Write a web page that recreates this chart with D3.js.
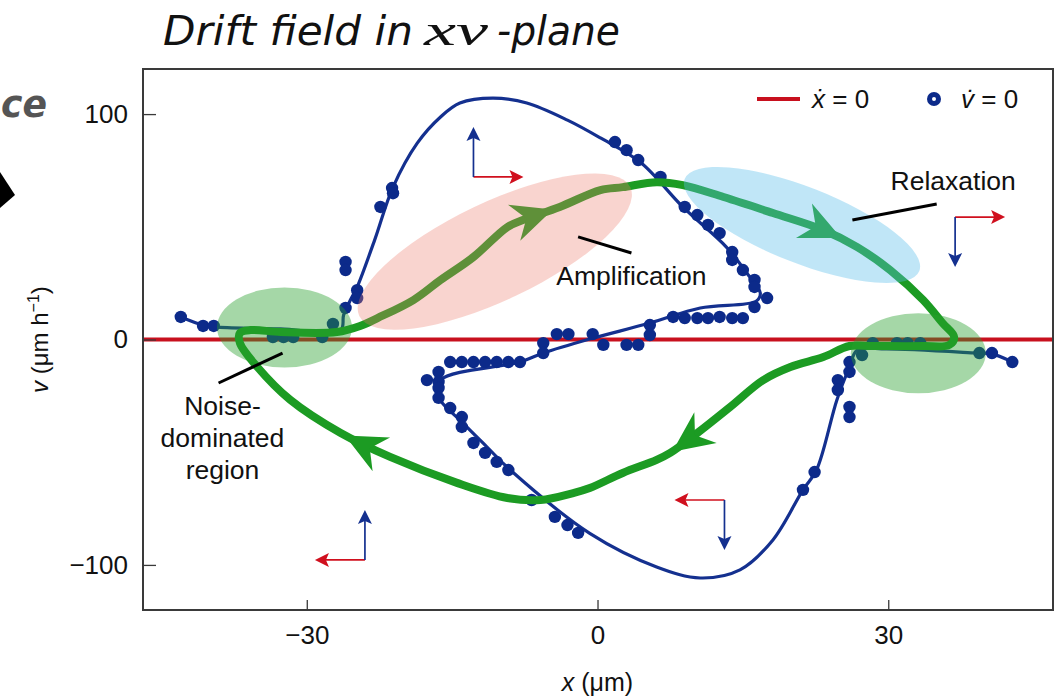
<!DOCTYPE html>
<html><head><meta charset="utf-8">
<script src="https://cdn.jsdelivr.net/npm/d3@7"></script>
<style>body{margin:0;background:#fff}svg{display:block}</style>
</head><body>
<svg id="c" width="1063" height="698"></svg>
<script>
// ---- data ----
const xTicks = [-30, 0, 30];
const yTicks = [-100, 0, 100];
// fitted v-dot = 0 curve
const curveX = [-43.0,-40.7,-39.2,-32.7,-26.5,-26.2,-25.5,-24.8,-23.0,-21.1,-18.6,-16.2,-14.2,-10.8,-7.3,-3.1,0.3,4.4,8.8,13.3,15.4,16.8,16.4,10.6,5.4,-0.8,-5.6,-8.0,-16.2,-16.4,-13.9,-11.4,-9.0,-0.8,6.1,10.6,14.7,18.1,21.2,22.6,24.7,26.0,26.8,29.8,39.1,40.7,42.8];
const curveV = [10.0,6.4,5.5,4.7,4.2,10.9,17.5,23.3,44.1,67.6,87.1,98.7,104.9,107.1,104.9,97.3,89.4,78.7,58.8,41.0,29.5,20.6,17.1,14.0,7.3,0.2,-6.0,-10.0,-18.0,-25.5,-37.0,-47.7,-57.9,-86.0,-100.9,-105.8,-102.2,-88.9,-66.7,-57.9,-26.8,-12.2,-4.7,-4.2,-6.0,-6.4,-10.0];
// measured v-dot = 0 points
const dotX = [-43.0,-40.7,-39.6,-33.5,-32.4,-31.4,-28.4,-27.3,-26.0,-24.8,-24.8,-26.0,-26.0,-22.4,-21.2,-21.1,
  1.8,3.0,4.2,6.5,9.0,10.3,11.4,12.6,13.9,13.9,15.0,16.2,16.2,17.5,16.2,15.0,13.9,12.6,11.4,10.3,9.0,7.8,5.4,5.4,4.2,3.0,0.6,-0.5,-3.0,-4.2,-5.6,-5.6,
  -8.0,-9.2,-10.4,-11.6,-12.8,-14.0,-15.2,-16.4,-17.6,-16.4,-16.4,-16.4,-15.2,-14.0,-14.0,-12.8,-11.6,-10.4,-9.2,-6.8,-4.4,-3.1,-2.0,
  21.2,22.4,24.8,24.8,26.0,26.0,26.0,26.0,27.3,28.4,30.9,32.0,33.3,39.4,40.7,42.8];
const dotV = [10.0,6.0,6.0,1.1,1.1,1.1,1.1,6.9,14.0,21.9,18.4,34.4,30.8,58.8,67.2,64.9,
  87.6,84.0,79.6,72.1,58.8,55.2,50.8,47.2,38.8,35.3,30.8,26.4,23.3,18.4,14.4,9.5,9.5,10.0,9.5,9.5,9.5,10.0,6.4,2.0,-2.4,-2.4,-2.4,2.4,2.4,2.4,-1.6,-6.0,
  -10.0,-10.0,-10.0,-10.0,-10.0,-10.0,-10.0,-14.4,-18.0,-18.8,-21.5,-25.9,-30.4,-34.4,-38.8,-45.9,-50.3,-54.3,-57.9,-71.2,-78.7,-82.3,-85.8,
  -66.7,-58.8,-18.0,-22.4,-29.9,-34.4,-14.4,-10.0,-6.9,-1.6,-1.6,-1.6,-1.6,-6.0,-6.0,-10.0];
// drift trajectory (closed loop)
const trajX = [-35.8,-32.7,-26.9,-24.5,-22.7,-19.0,-16.2,-12.8,-9.3,-7.7,-3.9,0.3,2.6,6.1,8.8,13.0,18.1,23.3,26.8,30.2,33.6,35.6,36.8,36.3,33.6,28.4,26.0,23.3,19.9,17.1,13.7,10.3,7.5,6.1,2.6,-0.8,-2.5,-5.9,-9.3,-14.5,-21.4,-26.5,-31.7,-35.1,-36.9,-36.9];
const trajV = [4.2,3.3,3.3,6.0,9.5,17.5,26.4,36.6,49.9,53.0,58.8,66.3,67.6,69.8,68.5,63.2,56.1,48.6,41.0,30.8,17.5,7.3,1.1,-2.4,-2.9,-2.9,-2.9,-7.8,-12.2,-18.0,-29.9,-41.5,-50.3,-53.4,-59.2,-65.9,-68.1,-71.2,-70.3,-63.6,-52.1,-41.5,-26.8,-12.2,-1.6,2.9];
const arrowFractions = [0.186, 0.372, 0.662, 0.877];
// highlighted regions
const regionNames = ["noiseLeft", "noiseRight", "amplification", "relaxation"];
const regionX = [-32.3, 33.1, -10.6, 21.1];
const regionV = [5.3, -6.1, 39.0, 50.8];
// annotations
const labelText = ["Amplification", "Relaxation", "Noise-|dominated|region"];
const leaderX1 = [-2.0, 26.3, -39.1], leaderV1 = [45.5, 53.0, -19.3];
const leaderX2 = [3.5, 35.0, -32.5], leaderV2 = [38.4, 60.1, -6.0];
const labelX = [3.5, 36.7, -38.7], labelV = [24.2, 66.1, -33.5];
// direction icons: origin, sign of x-arrow, sign of v-arrow
const iconX = [-12.8, 36.9, -24.0, 13.1];
const iconV = [72.1, 54.3, -97.8, -71.2];
const iconDx = [1, 1, -1, -1];
const iconDv = [1, -1, 1, -1];
// title pieces
const titleParts = ["Drift field in", "xv", "-plane"];

// ---- drawing ----
const svg = d3.select("#c");
const M = {l:143, t:69, w:910, h:541};
const x = d3.scaleLinear().domain([-46.9, 47]).range([M.l, M.l + M.w]);
const y = d3.scaleLinear().domain([-120, 120]).range([M.t + M.h, M.t]);
const SANS = "'Liberation Sans', Arial, Helvetica, sans-serif";
const RED = "#c8101e", NAVY = "#14308f", GREEN = "#1c9b23";

// left fragment of neighbouring panel
svg.append("text").attr("x", 1).attr("y", 117).attr("font-family", "'DejaVu Sans', sans-serif")
  .attr("font-style", "italic").attr("font-weight", "bold").attr("font-size", 38).attr("fill", "#555")
  .attr("textLength", 46).attr("lengthAdjust", "spacingAndGlyphs").text("ce");
svg.append("path").attr("d", "M0,172 L15,195 L0,208 Z").attr("fill", "#000");

// title
const titleSpec = [
  {x: 163, len: 250, fam: "'DejaVu Sans', sans-serif"},
  {x: 424, len: 64, fam: "'Liberation Serif', 'DejaVu Serif', serif"},
  {x: 497, len: 123, fam: "'DejaVu Sans', sans-serif"}
];
titleParts.forEach((t, i) => {
  svg.append("text").attr("x", titleSpec[i].x).attr("y", 45).attr("font-size", i === 1 ? 44 : 40)
    .attr("font-family", titleSpec[i].fam).attr("font-style", "italic").attr("fill", "#111")
    .attr("textLength", titleSpec[i].len).attr("lengthAdjust", "spacingAndGlyphs").text(t);
});

const plot = svg.append("g");
// x-dot = 0 nullcline
plot.append("line").attr("x1", M.l).attr("x2", M.l + M.w).attr("y1", y(0)).attr("y2", y(0))
  .attr("stroke", RED).attr("stroke-width", 4);

// fitted curve
const curvePts = curveX.map((d, i) => [x(d), y(curveV[i])]);
plot.append("path").attr("d", d3.line().curve(d3.curveCatmullRom.alpha(0.5))(curvePts))
  .attr("fill", "none").attr("stroke", NAVY).attr("stroke-width", 3.2);
// dots
plot.selectAll("circle.dot").data(dotX.map((d, i) => [d, dotV[i]])).join("circle")
  .attr("class", "dot").attr("cx", d => x(d[0])).attr("cy", d => y(d[1])).attr("r", 6.2).attr("fill", "#0c2a8a");

// trajectory
const trajPts = trajX.map((d, i) => [x(d), y(trajV[i])]);
const tp = plot.append("path").attr("d", d3.line().curve(d3.curveCatmullRomClosed.alpha(0.5))(trajPts))
  .attr("fill", "none").attr("stroke", GREEN).attr("stroke-width", 8).attr("stroke-linejoin", "round");
const tnode = tp.node(), total = tnode.getTotalLength();
arrowFractions.forEach(f => {
  const L = f * total;
  const p = tnode.getPointAtLength(L), q = tnode.getPointAtLength(L - 6);
  const a = Math.atan2(p.y - q.y, p.x - q.x) * 180 / Math.PI;
  plot.append("path").attr("d", "M6,0 L-35,-19 L-22,0 L-35,19 Z").attr("fill", GREEN)
    .attr("transform", `translate(${p.x},${p.y}) rotate(${a})`);
});

// translucent regions
const regionStyle = {
  noiseLeft:    {rx: 67.5, ry: 40, rot: 0, fill: "rgb(40,160,45)", op: 0.42},
  noiseRight:   {rx: 67.5, ry: 40, rot: 0, fill: "rgb(40,160,45)", op: 0.42},
  amplification:{rx: 150, ry: 49, rot: -25.4, fill: "rgb(235,120,105)", op: 0.32},
  relaxation:   {rx: 126, ry: 38, rot: 21.4, fill: "rgb(90,190,235)", op: 0.38}
};
regionNames.forEach((n, i) => {
  const s = regionStyle[n];
  plot.append("ellipse").attr("cx", 0).attr("cy", 0).attr("rx", s.rx).attr("ry", s.ry)
    .attr("transform", `translate(${x(regionX[i])},${y(regionV[i])}) rotate(${s.rot})`)
    .attr("fill", s.fill).attr("fill-opacity", s.op);
});

// leader lines and labels
labelText.forEach((t, i) => {
  plot.append("line").attr("x1", x(leaderX1[i])).attr("y1", y(leaderV1[i]))
    .attr("x2", x(leaderX2[i])).attr("y2", y(leaderV2[i])).attr("stroke", "#000").attr("stroke-width", 3);
  const lines = t.split("|");
  const tx = plot.append("text").attr("font-family", SANS).attr("font-size", 26.5).attr("text-anchor", "middle")
    .attr("fill", "#111");
  lines.forEach((ln, k) => tx.append("tspan").attr("x", x(labelX[i])).attr("y", y(labelV[i]) + k * 32).text(ln));
});

// direction icons
const ARM = 49;
function arrowHead(g, x2, y2, ang, col) {
  g.append("path").attr("d", "M1,0 L-13,-7 L-10,0 L-13,7 Z").attr("fill", col)
    .attr("transform", `translate(${x2},${y2}) rotate(${ang})`);
}
iconX.forEach((d, i) => {
  const ox = x(d), oy = y(iconV[i]);
  const g = plot.append("g");
  const hx = ox + iconDx[i] * ARM, vy = oy - iconDv[i] * ARM;
  g.append("line").attr("x1", ox).attr("y1", oy).attr("x2", hx - iconDx[i] * 6).attr("y2", oy).attr("stroke", "#d0101e").attr("stroke-width", 1.7);
  arrowHead(g, hx, oy, iconDx[i] > 0 ? 0 : 180, "#d0101e");
  g.append("line").attr("x1", ox).attr("y1", oy).attr("x2", ox).attr("y2", vy + iconDv[i] * 6).attr("stroke", NAVY).attr("stroke-width", 1.7);
  arrowHead(g, ox, vy, iconDv[i] > 0 ? -90 : 90, NAVY);
});

// frame
svg.append("rect").attr("x", M.l).attr("y", M.t).attr("width", M.w).attr("height", M.h)
  .attr("fill", "none").attr("stroke", "#3a3a3a").attr("stroke-width", 2);

// axes
const ya = svg.append("g").attr("transform", `translate(${M.l},0)`)
  .call(d3.axisLeft(y).tickValues(yTicks).tickSizeInner(-13).tickSizeOuter(0).tickPadding(15));
const xa = svg.append("g").attr("transform", `translate(0,${M.t + M.h})`)
  .call(d3.axisBottom(x).tickValues(xTicks).tickSizeInner(-10).tickSizeOuter(0).tickPadding(16));
[ya, xa].forEach(a => {
  a.select(".domain").remove();
  a.selectAll("line").attr("stroke", "#3a3a3a").attr("stroke-width", 1.3);
  a.selectAll("text").attr("font-family", SANS).attr("font-size", 26).attr("fill", "#111");
});

// axis titles
const xl = svg.append("text").attr("x", x(0)).attr("y", 691).attr("text-anchor", "middle")
  .attr("font-family", SANS).attr("font-size", 25).attr("fill", "#111");
xl.append("tspan").attr("font-style", "italic").text("x");
xl.append("tspan").text(" (μm)");
const yl = svg.append("text").attr("transform", `translate(48,${y(0)}) rotate(-90)`).attr("text-anchor", "middle")
  .attr("font-family", SANS).attr("font-size", 24).attr("fill", "#111");
yl.append("tspan").attr("font-style", "italic").text("v");
yl.append("tspan").text(" (μm h");
yl.append("tspan").attr("font-size", 16).attr("dy", -9).text("−1");
yl.append("tspan").attr("dy", 9).text(")");

// legend
const lg = svg.append("g").attr("font-family", SANS).attr("font-size", 26).attr("fill", "#111");
lg.append("line").attr("x1", 757).attr("x2", 800).attr("y1", 99).attr("y2", 99).attr("stroke", RED).attr("stroke-width", 4);
const t1 = lg.append("text").attr("x", 812).attr("y", 108);
t1.append("tspan").attr("font-style", "italic").text("x\u0307");
t1.append("tspan").text(" = 0");
lg.append("circle").attr("cx", 934).attr("cy", 99).attr("r", 7).attr("fill", "#0c2a8a");
lg.append("circle").attr("cx", 934).attr("cy", 99).attr("r", 2).attr("fill", "#fff");
const t2 = lg.append("text").attr("x", 961).attr("y", 108);
t2.append("tspan").attr("font-style", "italic").text("v\u0307");
t2.append("tspan").text(" = 0");
</script>
</body></html>
